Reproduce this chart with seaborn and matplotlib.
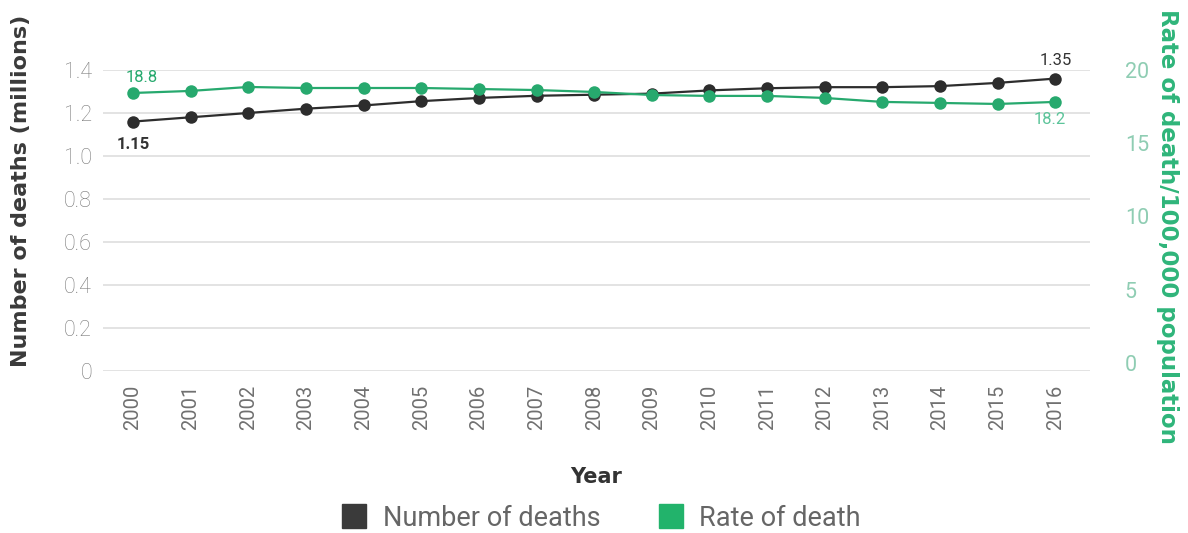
import seaborn as sns
import matplotlib.pyplot as plt
from matplotlib.lines import Line2D
import pandas as pd

# Data
years = [str(y) for y in range(2000, 2017)]
deaths = [1.16, 1.18, 1.20, 1.22, 1.235, 1.255, 1.27, 1.28, 1.285, 1.29,
          1.305, 1.315, 1.32, 1.32, 1.325, 1.34, 1.36]
rate = [18.43, 18.57, 18.84, 18.77, 18.77, 18.77, 18.70, 18.63, 18.50, 18.29,
        18.23, 18.23, 18.09, 17.82, 17.75, 17.68, 17.82]
death_labels = ["1.15", "1.35"]
rate_labels = ["18.8", "18.2"]

df = pd.DataFrame({"Year": years, "Deaths": deaths, "Rate": rate})
df["idx"] = range(len(df))

BLACK = "#2d2d2d"
GREEN = "#27a96e"

sns.set_style("white")
plt.rcParams["font.family"] = ["Roboto", "DejaVu Sans"]

fig = plt.figure(figsize=(11.88, 5.33), dpi=100)
ax = fig.add_axes([0.0867, 0.304, 0.8308, 0.5647])
ax2 = ax.twinx()

sns.lineplot(data=df, x="idx", y="Deaths", ax=ax, color=BLACK, marker="o",
             markersize=9, linewidth=1.6, markeredgewidth=0)
sns.lineplot(data=df, x="idx", y="Rate", ax=ax2, color=GREEN, marker="o",
             markersize=9, linewidth=1.6, markeredgewidth=0)

ax.set_xlim(-0.52, 16.6)
ax.set_ylim(0, 1.4)
ax2.set_ylim(-0.55, 20)

ax.set_yticks([0, 0.2, 0.4, 0.6, 0.8, 1.0, 1.2, 1.4])
ax.set_yticklabels(["0", "0.2", "0.4", "0.6", "0.8", "1.0", "1.2", "1.4"])
ax2.set_yticks([0, 5, 10, 15, 20])
ax.set_xticks(df["idx"])
ax.set_xticklabels(years, rotation=90)

ax.grid(axis="y", color="#dedede", linewidth=1.2)
ax.set_axisbelow(True)
for a in (ax, ax2):
    for s in a.spines.values():
        s.set_visible(False)

ax.tick_params(axis="y", length=0, pad=8, labelsize=15.5, labelcolor="#7a7a7a")
ax.tick_params(axis="x", length=0, pad=10, labelsize=14.5, labelcolor="#707070")
ax2.tick_params(axis="y", length=0, pad=25, labelsize=15.5, labelcolor="#8fcdb3")
for t in ax.get_yticklabels() + ax2.get_yticklabels():
    t.set_fontweight("light")
for t in ax2.get_yticklabels():
    t.set_fontweight("normal")

ax.set_xlabel("Year", fontsize=15, fontweight="bold", color="#333333",
              family="DejaVu Sans")
ax.xaxis.set_label_coords(0.5, -0.32)
ax.set_ylabel("Number of deaths (millions)", fontsize=16, fontweight="bold",
              color="#3a3a3a", family="DejaVu Sans")
ax2.set_ylabel("Rate of death/100,000 population", fontsize=16.5,
               fontweight="bold", color="#2fb57a", family="DejaVu Sans",
               rotation=270)
ax2.yaxis.set_label_coords(1.09, 0.48)
ax.yaxis.set_label_coords(-0.073, 0.60)

# Data labels at first and last points
first, last = df.index[0], df.index[-1]
ax.annotate(death_labels[0], (df["idx"][first], df["Deaths"][first]),
            xytext=(0, -20), textcoords="offset points", ha="center",
            fontsize=12, fontweight="bold", color="#333333", annotation_clip=False)
ax.annotate(death_labels[1], (df["idx"][last], df["Deaths"][last]),
            xytext=(0, 10), textcoords="offset points", ha="center",
            fontsize=12, color="#333333", annotation_clip=False)
ax2.annotate(rate_labels[0], (df["idx"][first], df["Rate"][first]),
             xytext=(6, 8), textcoords="offset points", ha="center",
             fontsize=12, color=GREEN, annotation_clip=False)
ax2.annotate(rate_labels[1], (df["idx"][last], df["Rate"][last]),
             xytext=(-4, -16), textcoords="offset points", ha="center",
             fontsize=12, color="#5cc49a", annotation_clip=False)

handles = [Line2D([], [], marker="s", linestyle="", markersize=17, color="#3a3a3a"),
           Line2D([], [], marker="s", linestyle="", markersize=17, color="#22b36b")]
fig.legend(handles, ["Number of deaths", "Rate of death"], loc="center",
           bbox_to_anchor=(0.5, 0.028), ncol=2, frameon=False, fontsize=19.5,
           handletextpad=0.05, columnspacing=1.6, labelcolor="#666666")

fig.savefig("out.png", dpi=100)
